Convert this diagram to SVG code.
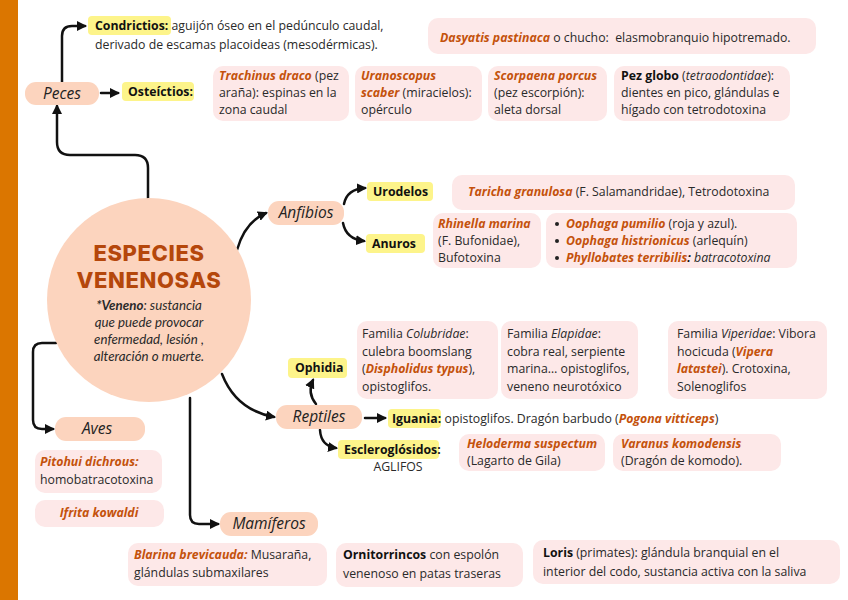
<svg xmlns="http://www.w3.org/2000/svg" width="848" height="600" viewBox="0 0 848 600">
<defs>
<marker id="ah" markerUnits="userSpaceOnUse" markerWidth="10" markerHeight="10" viewBox="0 0 10 10" refX="8" refY="5" orient="auto">
<path d="M0,0 L10,5 L0,10 Z" fill="#111"/>
</marker>
<style>
.bg{fill:#fff}
.bar{fill:#DB7600}
.box{fill:#FDE8E8}
.pill{fill:#FCD4BE}
.hl{fill:#FDF48A}
.t{font-family:"Open Sans","Liberation Sans",sans-serif;font-size:12.3px;fill:#2a2a2a}
.b{font-weight:bold;fill:#111}
.o{font-weight:bold;font-style:italic;fill:#C4520C}
.i{font-style:italic}
.pl{font-family:"Open Sans","Liberation Sans",sans-serif;font-style:italic;font-size:15.5px;fill:#222}
.ttl{font-family:Inter,"Liberation Sans",sans-serif;font-weight:800;font-size:22px;letter-spacing:0.6px;fill:#B5470B}
.ven{font-family:Lato,"Liberation Sans",sans-serif;font-style:italic;font-size:13.3px;fill:#2a2a2a}
.c{fill:none;stroke:#111;stroke-width:2.5;stroke-linecap:round;marker-end:url(#ah)}
</style>
</defs>
<rect class="bg" x="0" y="0" width="848" height="600"/>
<rect class="bar" x="0" y="0" width="18" height="600"/>

<g id="connectors">
<path class="c" d="M62,82 V36 Q62,26 72,26 H85"/>
<path class="c" d="M148,200 V168 Q148,155 135,155 H70 Q57,155 57,142 V106"/>
<path class="c" d="M101,93 H118"/>
<path class="c" d="M237,250 Q245,222 266,213"/>
<path class="c" d="M344,204 Q347,189 365,188"/>
<path class="c" d="M343,223 Q346,239 364,241"/>
<path class="c" d="M222,374 Q236,410 274,417"/>
<path class="c" d="M316,404 Q307,393 313,380"/>
<path class="c" d="M365,418 H385"/>
<path class="c" d="M320,430 Q321,446 336,448"/>
<path class="c" d="M56,343 H42 Q33,343 33,352 V420 Q33,429 42,429 H53"/>
<path class="c" d="M190,398 V515 Q190,524 199,524 H218"/>
</g>

<g id="centro">
<circle class="pill" cx="149" cy="300" r="102"/>
<text class="ttl" x="149" y="261" text-anchor="middle">ESPECIES</text>
<text class="ttl" x="149" y="288" text-anchor="middle">VENENOSAS</text>
<text class="ven" x="149" y="310" text-anchor="middle"><tspan font-weight="bold">*Veneno</tspan>: sustancia</text>
<text class="ven" x="149" y="327" text-anchor="middle">que puede provocar</text>
<text class="ven" x="149" y="344" text-anchor="middle">enfermedad, lesión ,</text>
<text class="ven" x="149" y="361" text-anchor="middle">alteración o muerte.</text>
</g>

<g id="peces">
<rect class="pill" x="25" y="82" width="74" height="23" rx="11"/>
<text class="pl" x="62" y="99" text-anchor="middle">Peces</text>
</g>
<g id="condrictios">
<rect class="hl" x="88" y="16" width="83" height="19" rx="4"/>
<text class="t" x="95" y="30"><tspan class="b">Condrictios:</tspan> aguijón óseo en el pedúnculo caudal,</text>
<text class="t" x="95" y="49">derivado de escamas placoideas (mesodérmicas).</text>
</g>
<g id="dasyatis">
<rect class="box" x="428" y="18" width="388" height="36" rx="10"/>
<text class="t" x="440" y="42"><tspan class="o">Dasyatis pastinaca</tspan> o chucho:&#160; elasmobranquio hipotremado.</text>
</g>
<g id="osteictios">
<rect class="hl" x="122" y="82" width="72" height="19" rx="4"/>
<text class="t b" x="128" y="96">Osteíctios:</text>
</g>
<g id="trachinus">
<rect class="box" x="213" y="66" width="136" height="55" rx="10"/>
<text class="t" x="219" y="80"><tspan class="o">Trachinus draco</tspan> (pez</text>
<text class="t" x="219" y="97">araña): espinas en la</text>
<text class="t" x="219" y="114">zona caudal</text>
</g>
<g id="uranoscopus">
<rect class="box" x="355" y="66" width="127" height="55" rx="10"/>
<text class="t" x="361" y="80"><tspan class="o">Uranoscopus</tspan></text>
<text class="t" x="361" y="97"><tspan class="o">scaber</tspan> (miracielos):</text>
<text class="t" x="361" y="114">opérculo</text>
</g>
<g id="scorpaena">
<rect class="box" x="488" y="66" width="119" height="55" rx="10"/>
<text class="t" x="494" y="80"><tspan class="o">Scorpaena porcus</tspan></text>
<text class="t" x="494" y="97">(pez escorpión):</text>
<text class="t" x="494" y="114">aleta dorsal</text>
</g>
<g id="pezglobo">
<rect class="box" x="614" y="66" width="176" height="55" rx="10"/>
<text class="t" x="621" y="80"><tspan class="b">Pez globo</tspan> (<tspan class="i">tetraodontidae</tspan>):</text>
<text class="t" x="621" y="97">dientes en pico, glándulas e</text>
<text class="t" x="621" y="114">hígado con tetrodotoxina</text>
</g>

<g id="anfibios">
<rect class="pill" x="268" y="201" width="76" height="24" rx="11"/>
<text class="pl" x="306" y="218" text-anchor="middle">Anfibios</text>
</g>
<g id="urodelos">
<rect class="hl" x="367" y="182" width="66" height="19" rx="4"/>
<text class="t b" x="373" y="196">Urodelos</text>
</g>
<g id="taricha">
<rect class="box" x="452" y="175" width="343" height="35" rx="10"/>
<text class="t" x="468" y="196"><tspan class="o">Taricha granulosa</tspan> (F. Salamandridae), Tetrodotoxina</text>
</g>
<g id="anuros">
<rect class="hl" x="366" y="234" width="59" height="19" rx="4"/>
<text class="t b" x="372" y="248">Anuros</text>
</g>
<g id="rhinella">
<rect class="box" x="433" y="213" width="108" height="55" rx="10"/>
<text class="t" x="438" y="228"><tspan class="o">Rhinella marina</tspan></text>
<text class="t" x="438" y="245">(F. Bufonidae),</text>
<text class="t" x="438" y="262">Bufotoxina</text>
</g>
<g id="oophaga">
<rect class="box" x="546" y="213" width="251" height="55" rx="10"/>
<circle cx="557" cy="224" r="2" fill="#222"/>
<circle cx="557" cy="241" r="2" fill="#222"/>
<circle cx="557" cy="258" r="2" fill="#222"/>
<text class="t" x="566" y="228"><tspan class="o">Oophaga pumilio</tspan> (roja y azul).</text>
<text class="t" x="566" y="245"><tspan class="o">Oophaga histrionicus</tspan> (arlequín)</text>
<text class="t" x="566" y="262"><tspan class="o">Phyllobates terribilis</tspan><tspan class="b i">:</tspan> <tspan class="i">batracotoxina</tspan></text>
</g>

<g id="reptiles">
<rect class="pill" x="276" y="405" width="86" height="24" rx="11"/>
<text class="pl" x="319" y="422" text-anchor="middle">Reptiles</text>
</g>
<g id="ophidia">
<rect class="hl" x="288" y="358" width="59" height="20" rx="4"/>
<text class="t b" x="295" y="372">Ophidia</text>
</g>
<g id="colubridae">
<rect class="box" x="357" y="321" width="141" height="78" rx="10"/>
<text class="t" x="362" y="338">Familia <tspan class="i">Colubridae</tspan>:</text>
<text class="t" x="362" y="356">culebra boomslang</text>
<text class="t" x="362" y="373">(<tspan class="o">Dispholidus typus</tspan>),</text>
<text class="t" x="362" y="391">opistoglifos.</text>
</g>
<g id="elapidae">
<rect class="box" x="501" y="321" width="137" height="78" rx="10"/>
<text class="t" x="507" y="338">Familia <tspan class="i">Elapidae</tspan>:</text>
<text class="t" x="507" y="356">cobra real, serpiente</text>
<text class="t" x="507" y="373">marina… opistoglifos,</text>
<text class="t" x="507" y="391">veneno neurotóxico</text>
</g>
<g id="viperidae">
<rect class="box" x="668" y="321" width="159" height="78" rx="10"/>
<text class="t" x="677" y="338">Familia <tspan class="i">Viperidae</tspan>: Vibora</text>
<text class="t" x="677" y="356">hocicuda (<tspan class="o">Vipera</tspan></text>
<text class="t" x="677" y="373"><tspan class="o">latastei</tspan>). Crotoxina,</text>
<text class="t" x="677" y="391">Solenoglifos</text>
</g>
<g id="iguania">
<rect class="hl" x="388" y="409" width="53" height="19" rx="4"/>
<text class="t" x="392" y="423"><tspan class="b">Iguania:</tspan> opistoglifos. Dragón barbudo (<tspan class="o">Pogona vitticeps</tspan>)</text>
</g>
<g id="escleroglosidos">
<rect class="hl" x="338" y="440" width="101" height="19" rx="4"/>
<text class="t b" x="344" y="454">Escleroglósidos:</text>
<text class="t" x="398" y="471" text-anchor="middle">AGLIFOS</text>
</g>
<g id="heloderma">
<rect class="box" x="459" y="434" width="146" height="37" rx="10"/>
<text class="t" x="467" y="448"><tspan class="o">Heloderma suspectum</tspan></text>
<text class="t" x="467" y="465">(Lagarto de Gila)</text>
</g>
<g id="varanus">
<rect class="box" x="613" y="434" width="168" height="37" rx="10"/>
<text class="t" x="621" y="448"><tspan class="o">Varanus komodensis</tspan></text>
<text class="t" x="621" y="465">(Dragón de komodo).</text>
</g>

<g id="aves">
<rect class="pill" x="55" y="417" width="90" height="24" rx="11"/>
<text class="pl" x="97" y="434" text-anchor="middle">Aves</text>
</g>
<g id="pitohui">
<rect class="box" x="35" y="450" width="127" height="43" rx="10"/>
<text class="t" x="40" y="466"><tspan class="o">Pitohui dichrous:</tspan></text>
<text class="t" x="40" y="484">homobatracotoxina</text>
</g>
<g id="ifrita">
<rect class="box" x="35" y="500" width="129" height="27" rx="10"/>
<text class="t o" x="99" y="517" text-anchor="middle">Ifrita kowaldi</text>
</g>

<g id="mamiferos">
<rect class="pill" x="220" y="512" width="98" height="24" rx="11"/>
<text class="pl" x="269" y="529" text-anchor="middle">Mamíferos</text>
</g>
<g id="blarina">
<rect class="box" x="128" y="543" width="199" height="43" rx="10"/>
<text class="t" x="134" y="559"><tspan class="o">Blarina brevicauda:</tspan> Musaraña,</text>
<text class="t" x="134" y="577">glándulas submaxilares</text>
</g>
<g id="ornitorrincos">
<rect class="box" x="336" y="543" width="187" height="44" rx="10"/>
<text class="t" x="343" y="559"><tspan class="b">Ornitorrincos</tspan> con espolón</text>
<text class="t" x="343" y="578">venenoso en patas traseras</text>
</g>
<g id="loris">
<rect class="box" x="533" y="540" width="307" height="44" rx="10"/>
<text class="t" x="543" y="557"><tspan class="b">Loris</tspan> (primates): glándula branquial en el</text>
<text class="t" x="543" y="576">interior del codo, sustancia activa con la saliva</text>
</g>
</svg>
